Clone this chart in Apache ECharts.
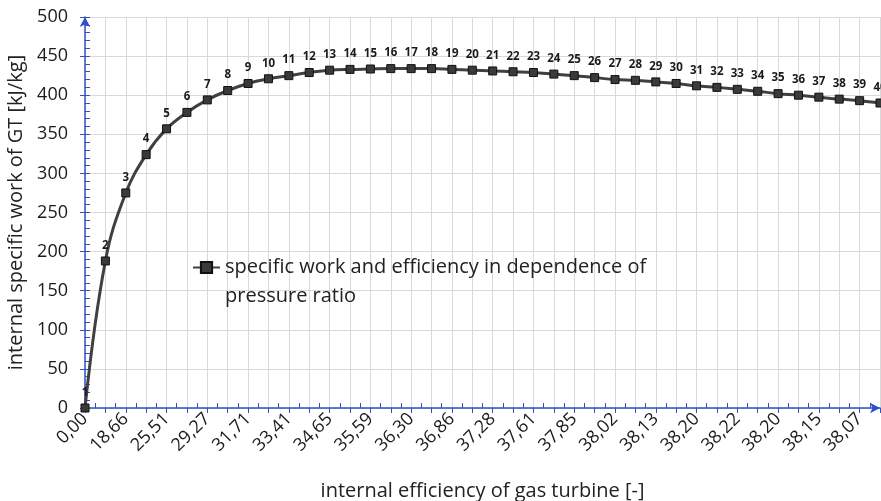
<!DOCTYPE html>
<html>
<head>
<meta charset="utf-8">
<script src="https://cdn.jsdelivr.net/npm/echarts@6/dist/echarts.min.js"></script>
<style>
  html, body { margin: 0; padding: 0; background: #fff; }
  #chart { width: 881px; height: 501px; }
</style>
</head>
<body>
<div id="chart"></div>
<script>
// pressure ratio (point labels), one per point
var pressureRatio = [1, 2, 3, 4, 5, 6, 7, 8, 9, 10, 11, 12, 13, 14, 15, 16, 17, 18, 19, 20,
  21, 22, 23, 24, 25, 26, 27, 28, 29, 30, 31, 32, 33, 34, 35, 36, 37, 38, 39, 40];
// internal specific work [kJ/kg]
var specificWork = [0, 188, 275, 324, 357, 378, 394, 406, 415, 421, 425, 429, 432, 433, 433.5, 434, 434, 434, 433, 432,
  431, 430, 429, 427, 425, 422.5, 420, 419, 417, 415, 412, 410, 407.5, 405, 402, 400, 397.5, 395, 393, 390];
// efficiency labels shown on the x axis (every second point: 1, 3, 5 ... 39)
var effTickLabels = ['0,00', '18,66', '25,51', '29,27', '31,71', '33,41', '34,65', '35,59', '36,30', '36,86',
  '37,28', '37,61', '37,85', '38,02', '38,13', '38,20', '38,22', '38,20', '38,15', '38,07'];

var seriesName = 'specific work and efficiency in dependence of\npressure ratio';
var blue = '#3050c8';
var font = '"Open Sans", sans-serif';

var points = specificWork.map(function (v, i) { return [i, v]; });

var chart = echarts.init(document.getElementById('chart'));
chart.setOption({
  animation: false,
  textStyle: { fontFamily: font },
  grid: { left: 85, right: 1, top: 17, bottom: 93, containLabel: false, outerBoundsMode: 'none' },
  legend: {
    left: 192,
    top: 224,
    itemWidth: 27,
    itemHeight: 14,
    itemGap: 0,
    padding: 0,
    // empty first line keeps the icon level with the first text line
    formatter: function (name) { return '\n' + name; },
    textStyle: { fontSize: 20, color: '#222', lineHeight: 29, fontFamily: font },
    data: [seriesName]
  },
  xAxis: [{
    type: 'value',
    min: 0,
    max: 39,
    interval: 1,
    name: 'internal efficiency of gas turbine [-]',
    nameLocation: 'middle',
    nameGap: 73,
    nameTextStyle: { fontSize: 20, color: '#222', fontFamily: font },
    axisLine: { show: true, symbol: ['none', 'arrow'], symbolSize: [8, 10], lineStyle: { color: blue, width: 1.5 } },
    axisTick: { show: true, length: 5, lineStyle: { color: blue } },
    axisLabel: {
      rotate: 45,
      fontSize: 18,
      color: '#1a1a1a',
      margin: 8,
      showMinLabel: true,
      showMaxLabel: true,
      formatter: function (v) {
        return v % 2 === 0 ? effTickLabels[v / 2] : '';
      }
    },
    splitLine: { show: true, lineStyle: { color: '#d9d9d9' } }
  }, {
    type: 'value',
    min: 0,
    max: 39,
    interval: 1,
    position: 'bottom',
    axisLine: { show: false },
    axisLabel: { show: false },
    splitLine: { show: false },
    axisTick: { show: false, inside: true },
    minorTick: { show: true, splitNumber: 2, length: 5, lineStyle: { color: blue } }
  }],
  yAxis: [{
    type: 'value',
    min: 0,
    max: 500,
    interval: 50,
    name: 'internal specific work of GT [kJ/kg]',
    nameLocation: 'middle',
    nameGap: 54,
    nameRotate: 90,
    nameTextStyle: { fontSize: 20, color: '#222', fontFamily: font },
    axisLine: { show: true, symbol: ['none', 'arrow'], symbolSize: [8, 10], lineStyle: { color: blue, width: 1.5 } },
    axisTick: { show: true, length: 5, lineStyle: { color: blue } },
    axisLabel: { fontSize: 18, color: '#1a1a1a', margin: 17 },
    splitLine: { show: true, lineStyle: { color: '#d9d9d9' } }
  }, {
    type: 'value',
    min: 0,
    max: 500,
    interval: 50,
    position: 'left',
    axisLine: { show: false },
    axisLabel: { show: false },
    splitLine: { show: false },
    axisTick: { show: true, inside: true, length: 5, lineStyle: { color: blue } },
    minorTick: { show: true, splitNumber: 5, length: 5, lineStyle: { color: blue } }
  }],
  series: [{
    name: seriesName,
    type: 'line',
    xAxisIndex: 0,
    yAxisIndex: 0,
    data: points,
    smooth: 0.4,
    symbol: 'rect',
    symbolSize: 8,
    lineStyle: { color: '#404040', width: 3 },
    itemStyle: { color: '#3a3a3a', borderColor: '#111', borderWidth: 1 },
    label: {
      show: true,
      position: 'top',
      distance: 5,
      fontSize: 11.5,
      fontWeight: 'bold',
      color: '#1a1a1a',
      formatter: function (p) { return pressureRatio[p.dataIndex]; }
    }
  }]
});
</script>
</body>
</html>
